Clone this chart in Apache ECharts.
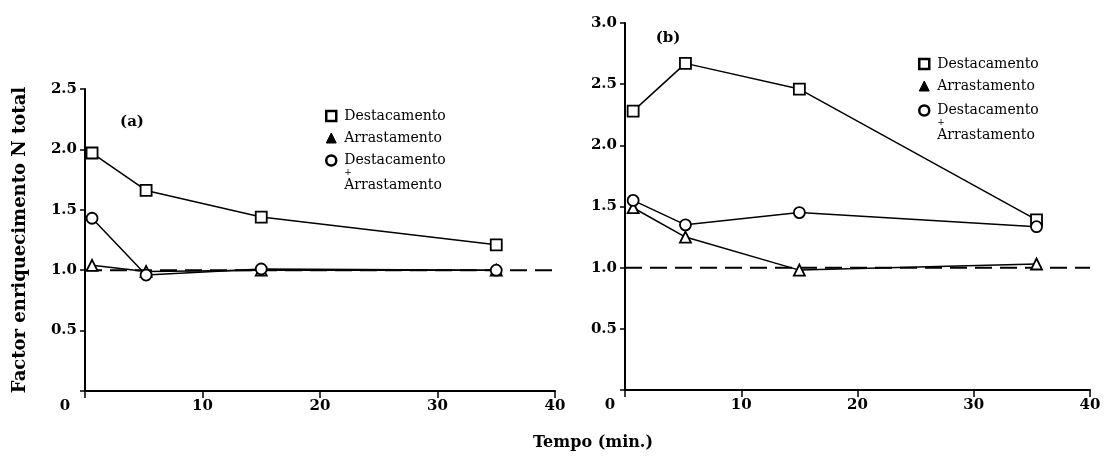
<!DOCTYPE html>
<html>
<head>
<meta charset="utf-8">
<script src="https://cdn.jsdelivr.net/npm/echarts@6/dist/echarts.min.js"></script>
<style>
  html, body { margin: 0; padding: 0; background: #fff; }
  #chart { width: 1109px; height: 456px; }
</style>
</head>
<body>
<div id="chart"></div>
<script>
// Panel (a)
const timeA = [0.6, 5.2, 15, 35];
const destA = [1.97, 1.66, 1.44, 1.21];
const arrA  = [1.04, 0.99, 1.0, 1.0];
const combA = [1.43, 0.96, 1.01, 1.0];
// Panel (b)
const timeB = [0.7, 5.2, 15, 35.4];
const destB = [2.28, 2.67, 2.46, 1.39];
const arrB  = [1.49, 1.25, 0.98, 1.03];
const combB = [1.55, 1.35, 1.45, 1.335];
// Reference level (enrichment factor = 1)
const refLevel = 1.0;
const xRange = [0, 40];

const NAME_D = 'Destacamento';
const NAME_A = 'Arrastamento';
const NAME_C = 'Destacamento + Arrastamento';

const SERIF = '"DejaVu Serif", "Liberation Serif", serif';
const pairs = (xs, ys) => xs.map((x, i) => [x, ys[i]]);

function seriesFor(idx, xs, d, a, c) {
  const base = {
    type: 'line', xAxisIndex: idx, yAxisIndex: idx,
    lineStyle: { color: '#000', width: 1.5 },
    itemStyle: { color: '#fff', borderColor: '#000', borderWidth: 1.8 },
    showAllSymbol: true, silent: true, animation: false
  };
  return [
    Object.assign({}, base, { name: NAME_D, symbol: 'rect', symbolSize: 11, data: pairs(xs, d), z: 4 }),
    Object.assign({}, base, { name: NAME_A, symbol: 'triangle', symbolSize: 11, data: pairs(xs, a), z: 3 }),
    Object.assign({}, base, { name: NAME_C, symbol: 'circle', symbolSize: 11, data: pairs(xs, c), z: 5 }),
    {
      type: 'line', xAxisIndex: idx, yAxisIndex: idx, symbol: 'none', silent: true, z: 2,
      lineStyle: { color: '#000', width: 2, type: [17, 8] },
      data: xRange.map(x => [x, refLevel])
    }
  ];
}

function xAxisFor(idx, zeroShift) {
  return {
    type: 'value', gridIndex: idx, min: 0, max: 40, interval: 10,
    axisLine: { show: true, lineStyle: { color: '#000', width: 2 } },
    axisTick: { show: true, inside: false, length: 7, lineStyle: { color: '#000', width: 1.5 } },
    splitLine: { show: false },
    axisLabel: {
      margin: 8, color: '#000', fontFamily: SERIF, fontWeight: 'bold', fontSize: 15,
      formatter: v => v === 0 ? '{z|0}' : String(v),
      rich: { z: { padding: [0, zeroShift, 0, 0], fontFamily: SERIF, fontWeight: 'bold', fontSize: 15, color: '#000' } }
    }
  };
}

function yAxisFor(idx, max) {
  return {
    type: 'value', gridIndex: idx, min: 0, max: max, interval: 0.5,
    axisLine: { show: true, lineStyle: { color: '#000', width: 2 } },
    axisTick: { show: true, length: 5, lineStyle: { color: '#000', width: 1.5 } },
    splitLine: { show: false },
    axisLabel: {
      margin: 8, color: '#000', fontFamily: SERIF, fontWeight: 'bold', fontSize: 15,
      formatter: v => v === 0 ? '' : v.toFixed(1)
    }
  };
}

const legendText = { fontFamily: SERIF, fontSize: 14, color: '#000' };
const iconStyle = { color: '#fff', borderColor: '#000', borderWidth: 2.5 };
function legendsFor(left, top1, top2) {
  return [
    {
      orient: 'vertical', left: left, top: top1, itemWidth: 10, itemHeight: 10, itemGap: 8,
      selectedMode: false,
      formatter: n => '{a|' + n + '}',
      textStyle: Object.assign({
        rich: { a: Object.assign({ lineHeight: 16, padding: [0, 0, 0, 3] }, legendText) }
      }, legendText),
      data: [
        { name: NAME_D, icon: 'rect', itemStyle: iconStyle },
        { name: NAME_A, icon: 'triangle', itemStyle: { color: '#000', borderColor: '#000', borderWidth: 1 } }
      ]
    },
    {
      orient: 'vertical', left: left, top: top2, itemWidth: 10, itemHeight: 10,
      selectedMode: false,
      formatter: () => '{s| }\n{a|Destacamento}\n{p|+}\n{a|Arrastamento}',
      textStyle: Object.assign({
        rich: {
          s: { lineHeight: 25, fontSize: 4 },
          a: Object.assign({ lineHeight: 16, padding: [0, 0, 0, 3] }, legendText),
          p: { lineHeight: 9, fontSize: 9, fontFamily: SERIF, color: '#000', padding: [0, 0, 0, 3] }
        }
      }, legendText),
      data: [{ name: NAME_C, icon: 'circle', itemStyle: iconStyle }]
    }
  ];
}

const chart = echarts.init(document.getElementById('chart'), null, { renderer: 'canvas' });
chart.setOption({
  backgroundColor: '#fff',
  animation: false,
  grid: [
    { left: 85, top: 89, width: 470, height: 302 },
    { left: 625, top: 23, width: 465, height: 367 }
  ],
  xAxis: [xAxisFor(0, 40), xAxisFor(1, 30)],
  yAxis: [yAxisFor(0, 2.5), yAxisFor(1, 3.0)],
  legend: legendsFor(320, 104, 133).concat(legendsFor(913, 52, 83)),
  series: seriesFor(0, timeA, destA, arrA, combA).concat(seriesFor(1, timeB, destB, arrB, combB)),
  graphic: [
    { type: 'text', x: 132, y: 122, style: { text: '(a)', font: 'bold 15px ' + SERIF, fill: '#000', align: 'center', verticalAlign: 'middle' } },
    { type: 'text', x: 668, y: 38, style: { text: '(b)', font: 'bold 15px ' + SERIF, fill: '#000', align: 'center', verticalAlign: 'middle' } },
    { type: 'text', x: 20, y: 240, rotation: Math.PI / 2, style: { text: 'Factor enriquecimento N total', font: 'bold 18px ' + SERIF, fill: '#000', align: 'center', verticalAlign: 'middle' } },
    { type: 'text', x: 593, y: 443, style: { text: 'Tempo (min.)', font: 'bold 16px ' + SERIF, fill: '#000', align: 'center', verticalAlign: 'middle' } }
  ]
});
</script>
</body>
</html>
